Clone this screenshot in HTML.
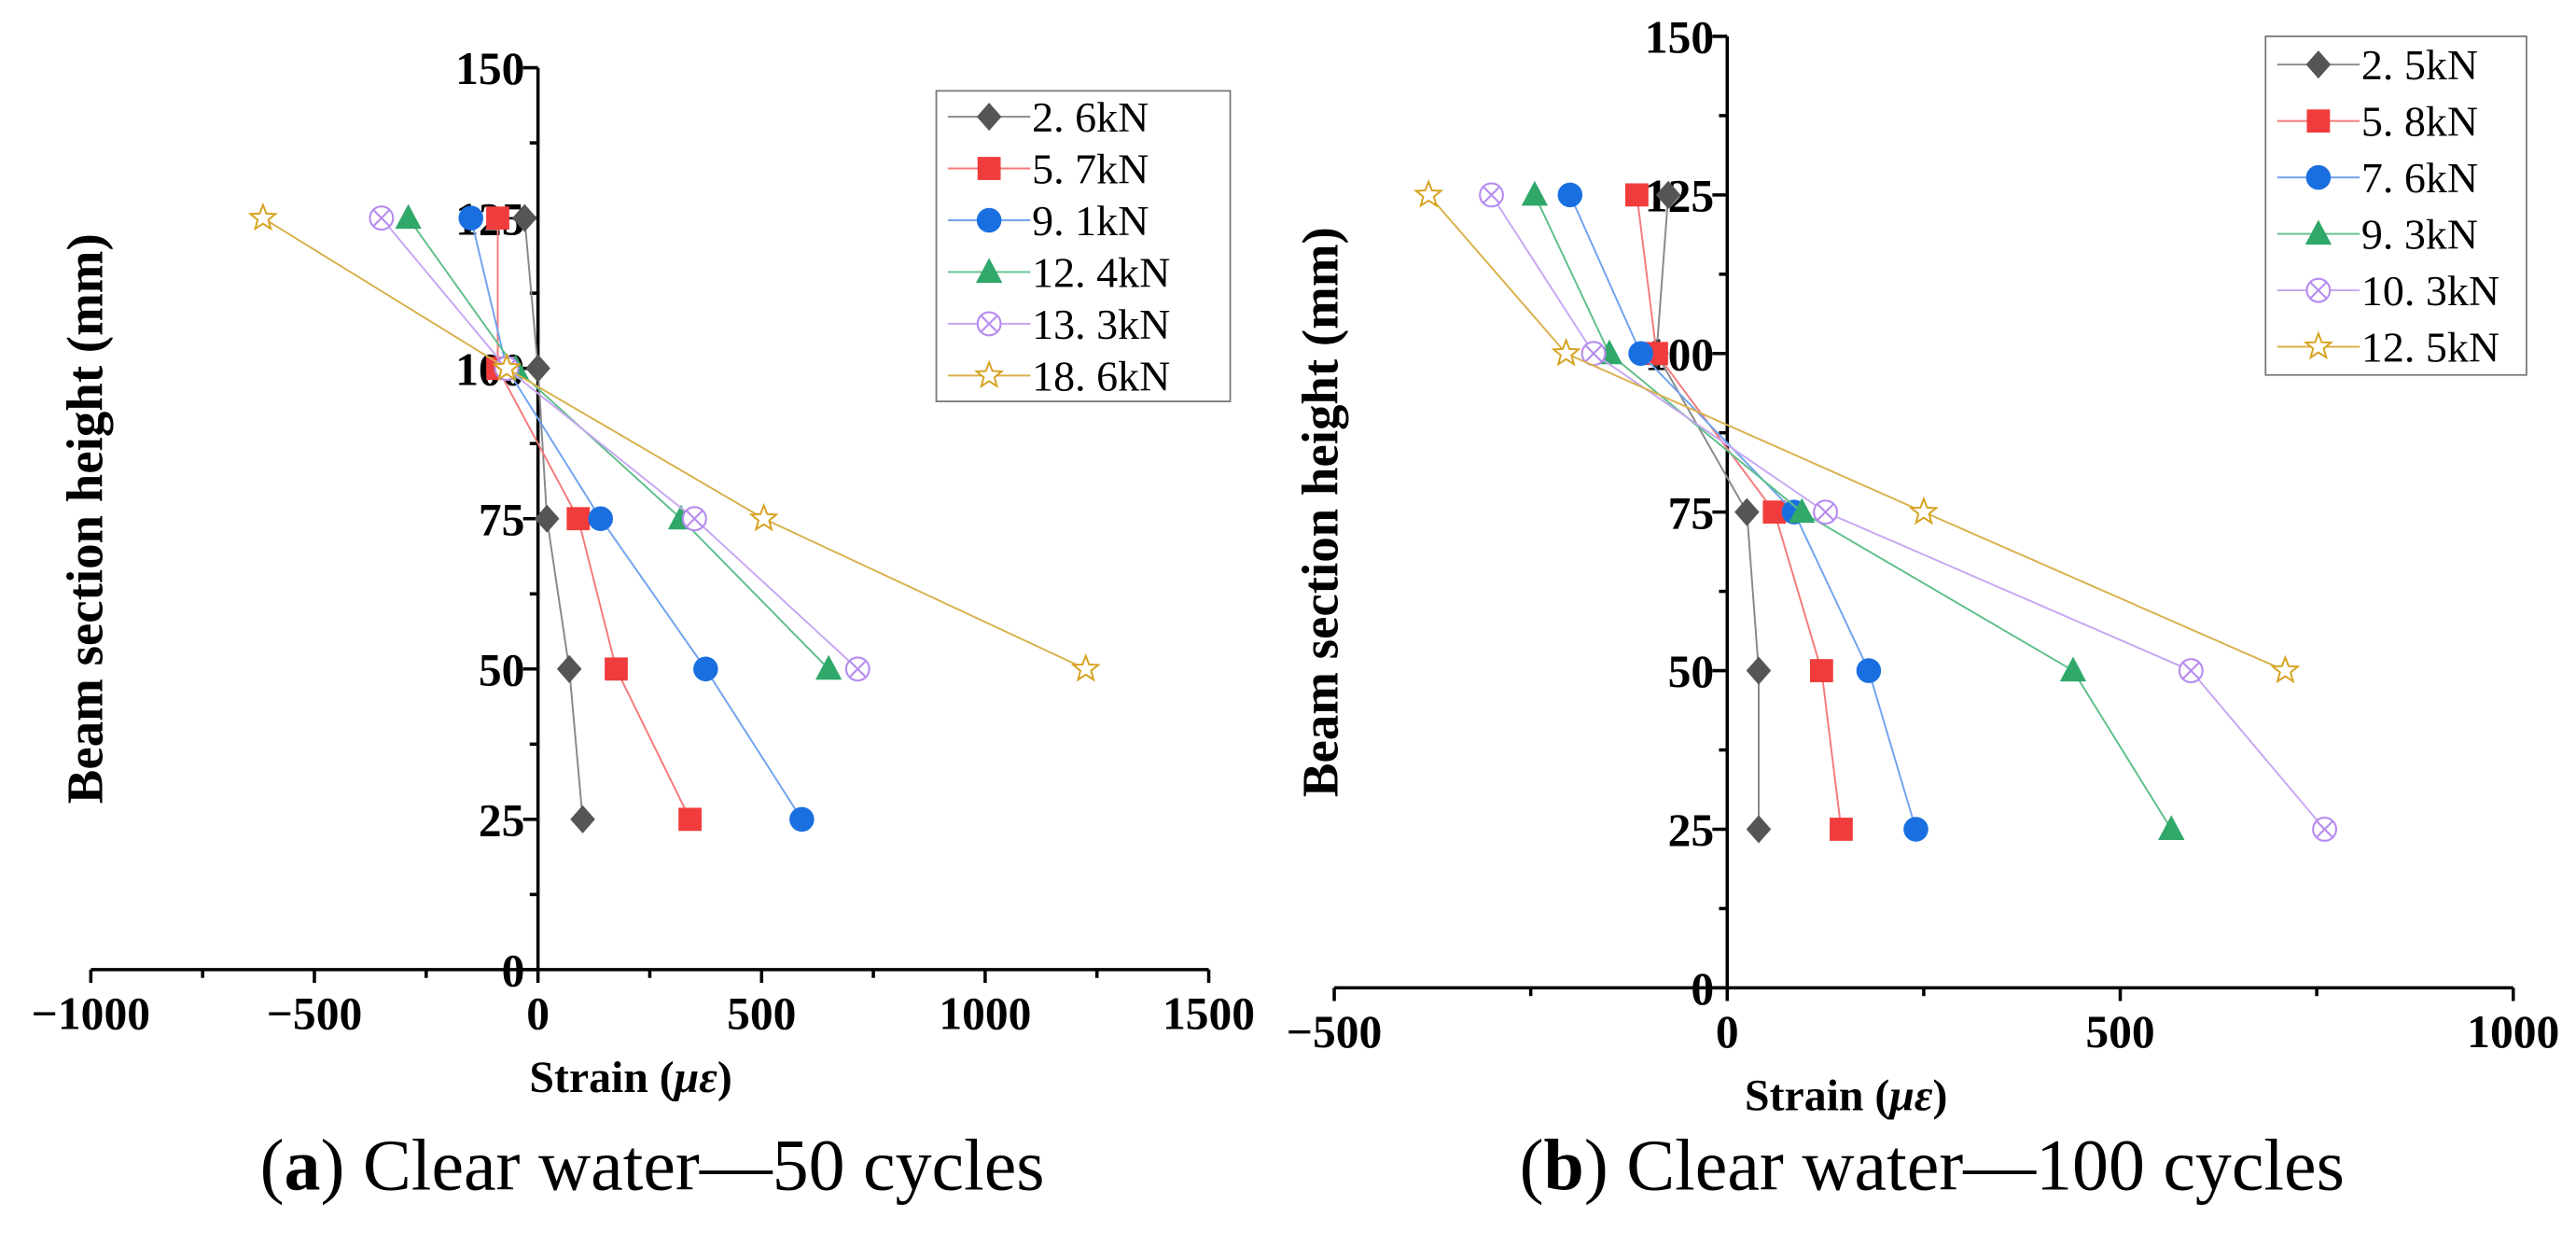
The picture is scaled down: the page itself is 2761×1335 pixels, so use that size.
<!DOCTYPE html>
<html><head><meta charset="utf-8"><style>
html,body{margin:0;padding:0;background:#fff;}
svg{display:block;}
text{font-family:"Liberation Serif",serif;}
</style></head><body>
<svg id="fig" width="2761" height="1335" viewBox="0 0 1560 754.3" preserveAspectRatio="none" xmlns="http://www.w3.org/2000/svg"></svg>
<script>
const heights=[125,100,75,50,25];
const aLabels=["2. 6kN","5. 7kN","9. 1kN","12. 4kN","13. 3kN","18. 6kN"];
const aS1=[-30,0,20,70,100];
const aS2=[-90,-90,90,175,340];
const aS3=[-150,-70,140,375,590];
const aS4=[-290,-50,320,650];
const aS5=[-350,-70,350,715];
const aS6=[-615,-70,505,1225];
const bLabels=["2. 5kN","5. 8kN","7. 6kN","9. 3kN","10. 3kN","12. 5kN"];
const bS1=[-75,-90,25,40,40];
const bS2=[-115,-90,60,120,145];
const bS3=[-200,-110,85,180,240];
const bS4=[-245,-150,95,440,565];
const bS5=[-300,-170,125,590,760];
const bS6=[-380,-205,250,710];
const aXTicks=[-1000,-500,0,500,1000,1500];
const bXTicks=[-500,0,500,1000];
const yTicks=[0,25,50,75,100,125,150];

const NS="http://www.w3.org/2000/svg";
const svg=document.getElementById('fig');
const colors=["#555555","#f03c3c","#1a6fe0","#2fa86a","#b78cf0","#d6a21e"];
const lineColors=["#888","#f47a7a","#6fa3ee","#5fbf8a","#c7a6f2","#d9b04a"];
const shapes=["diamond","square","circle","triangle","xcircle","star"];
function el(tag,attrs,parent){const e=document.createElementNS(NS,tag);for(const k in attrs)e.setAttribute(k,attrs[k]);(parent||svg).appendChild(e);return e;}
function marker(g,shape,x,y,c){
  let m;
  if(shape==="diamond")m=el('polygon',{points:`${x},${y-8.5} ${x+7.5},${y} ${x},${y+8.5} ${x-7.5},${y}`,fill:c},g);
  else if(shape==="square")m=el('rect',{x:x-7,y:y-7,width:14,height:14,fill:c},g);
  else if(shape==="circle")m=el('circle',{cx:x,cy:y,r:7.5,fill:c},g);
  else if(shape==="triangle")m=el('polygon',{points:`${x},${y-8.5} ${x+8},${y+6.5} ${x-8},${y+6.5}`,fill:c},g);
  else if(shape==="xcircle"){m=el('g',{},g);el('circle',{cx:x,cy:y,r:7,fill:'#fff',stroke:c,'stroke-width':1.2},m);el('path',{d:`M${x-5},${y-5}L${x+5},${y+5}M${x+5},${y-5}L${x-5},${y+5}`,stroke:c,'stroke-width':1.2},m);}
  else {let p=[];for(let i=0;i<10;i++){const r=i%2?3.4:8;const a=-Math.PI/2+i*Math.PI/5;p.push((x+r*Math.cos(a)).toFixed(2)+','+(y+r*Math.sin(a)).toFixed(2));}m=el('polygon',{points:p.join(' '),fill:'#fff',stroke:c,'stroke-width':1.1},g);}
  
  
}
function chart(cfg){
  const {x0,x1,xmin,xmax,y0,y1,xTicks,series,labels,leg,xlabelX,ylabelX,name}=cfg;
  const sx=v=>x0+(v-xmin)/(xmax-xmin)*(x1-x0);
  const sy=v=>y0+(v-0)/(150)*(y1-y0);
  const g=el('g',{});
  
  
  const ax=sx(0);
  const xa=el('g',{},g);
  
  
  el('line',{x1:x0,y1:y0,x2:x1,y2:y0,stroke:'#000','stroke-width':2},xa);
  const step=xTicks[1]-xTicks[0];
  for(let v=xmin;v<=xmax+0.1;v+=step/2){
    const major=xTicks.includes(v);
    el('line',{x1:sx(v),y1:y0,x2:sx(v),y2:y0+(major?8:5),stroke:'#000','stroke-width':2},xa);
  }
  xTicks.forEach(v=>{const t=el('text',{x:sx(v),y:y0+36,'text-anchor':'middle','font-size':28,'font-weight':'bold'},xa);t.textContent=v<0?'−'+Math.abs(v):v;
    
    });
  const xt=el('text',{x:xlabelX,y:y0+74,'text-anchor':'middle','font-size':27,'font-weight':'bold'},xa);
  xt.innerHTML='Strain (<tspan font-style="italic">με</tspan>)';
  
  
  const ya=el('g',{},g);
  
  
  el('line',{x1:ax,y1:y0,x2:ax,y2:y1,stroke:'#000','stroke-width':2},ya);
  for(let v=0;v<=150;v+=12.5){const major=v%25===0;el('line',{x1:ax,y1:sy(v),x2:ax-(major?9:5),y2:sy(v),stroke:'#000','stroke-width':2},ya);}
  yTicks.forEach(v=>{const t=el('text',{x:ax-8,y:sy(v)+10,'text-anchor':'end','font-size':28,'font-weight':'bold'},ya);t.textContent=v;
    
    });
  const yt=el('text',{x:0,y:0,'text-anchor':'middle','font-size':31,'font-weight':'bold',transform:`translate(${ylabelX},${(y0+y1)/2}) rotate(-90)`},ya);
  yt.textContent='Beam section height (mm)';
  
  
  series.forEach((s,i)=>{
    const sg=el('g',{},g);
    
    
    const pts=s.map((v,j)=>sx(v)+','+sy(heights[j])).join(' ');
    el('polyline',{points:pts,fill:'none',stroke:lineColors[i],'stroke-width':1.1},sg);
    s.forEach((v,j)=>marker(sg,shapes[i],sx(v),sy(heights[j]),colors[i]));
  });
  const lg=el('g',{},g);
  
  
  el('rect',{x:leg.x,y:leg.y,width:leg.w,height:leg.h,fill:'#fff',stroke:'#777','stroke-width':1},lg);
  labels.forEach((l,i)=>{
    const e=el('g',{},lg);
    
    
    const yy=leg.y+leg.h/12*(2*i+1);
    el('line',{x1:leg.x+7,y1:yy,x2:leg.x+57,y2:yy,stroke:lineColors[i],'stroke-width':1.1},e);
    marker(e,shapes[i],leg.x+32,yy,colors[i]);
    const t=el('text',{x:leg.x+58,y:yy+9,'font-size':26,'font-family':'"Liberation Serif","Noto Serif CJK SC",serif'},e);t.textContent=l;
  });
}
chart({name:'chart-a',x0:55,x1:732,xmin:-1000,xmax:1500,y0:587,y1:41,xTicks:aXTicks,series:[aS1,aS2,aS3,aS4,aS5,aS6],labels:aLabels,leg:{x:567,y:55,w:178,h:188},xlabelX:382,ylabelX:62});
chart({name:'chart-b',x0:808,x1:1522,xmin:-500,xmax:1000,y0:598,y1:22,xTicks:bXTicks,series:[bS1,bS2,bS3,bS4,bS5,bS6],labels:bLabels,leg:{x:1372,y:22,w:158,h:205},xlabelX:1118,ylabelX:810});
const c1=el('text',{x:395,y:720,'text-anchor':'middle','font-size':44});
c1.innerHTML='(<tspan font-weight="bold">a</tspan>) Clear water—50 cycles';


const c2=el('text',{x:1170,y:720,'text-anchor':'middle','font-size':44});
c2.innerHTML='(<tspan font-weight="bold">b</tspan>) Clear water—100 cycles';


</script>
</body></html>
